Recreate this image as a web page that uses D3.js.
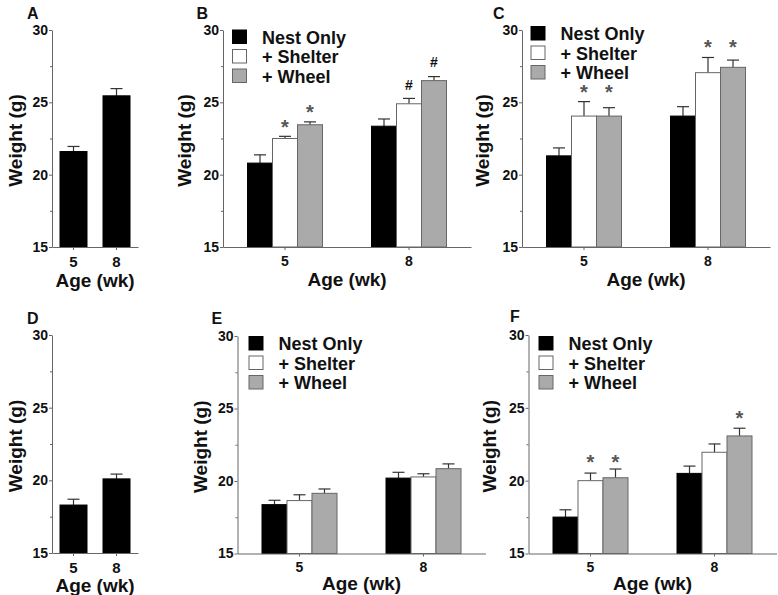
<!DOCTYPE html>
<html><head><meta charset="utf-8">
<script src="https://cdn.jsdelivr.net/npm/d3@7"></script>
<style>
body{margin:0;background:#fff;}
svg{display:block;font-family:"Liberation Sans",Arial,Helvetica,sans-serif;}
</style></head>
<body>
<svg id="chart" width="778" height="595"></svg>
<script>
// ---------- DATA ----------
const ages = ['5', '8'];
const groups = ['Nest Only', '+ Shelter', '+ Wheel'];
const majorTicks = [15, 20, 25, 30];
const minorTicks = [17.5, 22.5, 27.5];

// Panel A (single group)
const meanA = [21.6, 25.45];
const semA = [0.35, 0.5];
// Panel D (single group)
const meanD = [18.3, 20.1];
const semD = [0.4, 0.33];

// Panel B
const meanB_nest = [20.8, 23.35], semB_nest = [0.57, 0.5];
const meanB_shelter = [22.5, 24.9], semB_shelter = [0.15, 0.37];
const meanB_wheel = [23.45, 26.5], semB_wheel = [0.2, 0.28];
// Panel C
const meanC_nest = [21.3, 24.05], semC_nest = [0.55, 0.65];
const meanC_shelter = [24.05, 27.05], semC_shelter = [1.0, 1.05];
const meanC_wheel = [24.05, 27.42], semC_wheel = [0.58, 0.5];
// Panel E
const meanE_nest = [18.37, 20.2], semE_nest = [0.3, 0.4];
const meanE_shelter = [18.65, 20.28], semE_shelter = [0.4, 0.22];
const meanE_wheel = [19.15, 20.85], semE_wheel = [0.3, 0.33];
// Panel F
const meanF_nest = [17.5, 20.5], semF_nest = [0.5, 0.5];
const meanF_shelter = [20.0, 21.95], semF_shelter = [0.52, 0.57];
const meanF_wheel = [20.2, 23.07], semF_wheel = [0.6, 0.53];

// Significance markers: [age, group index, symbol, weight level of marker]
const sigB = [['5', 1, '*', 23.66], ['5', 2, '*', 24.68], ['8', 1, '#', 26.2], ['8', 2, '#', 27.79]];
const sigC = [['5', 1, '*', 26.04], ['5', 2, '*', 26.04], ['8', 1, '*', 29.19], ['8', 2, '*', 29.19]];
const sigF = [['5', 1, '*', 21.65], ['5', 2, '*', 21.65], ['8', 2, '*', 24.63]];

// ---------- STYLE / LAYOUT ----------
const fills = ['#000000', '#ffffff', '#aaaaaa'];
const strokes = ['#000000', '#666666', '#666666'];
const axisColor = '#666';

const panels = [
  {id: 'A', means: [meanA], sems: [semA], sig: [],
   x0: 52, w: 86, yb: 247, yt: 30, barW: 27, tickFs: 15, ageDy: 40, letter: [27, 18.5], ylabX: 22},
  {id: 'B', means: [meanB_nest, meanB_shelter, meanB_wheel], sems: [semB_nest, semB_shelter, semB_wheel], sig: sigB,
   x0: 223, w: 248, yb: 247, yt: 30, barW: 25, tickFs: 14, ageDy: 39, letter: [196.5, 18.5], ylabX: 191, legend: [232, 29.5]},
  {id: 'C', means: [meanC_nest, meanC_shelter, meanC_wheel], sems: [semC_nest, semC_shelter, semC_wheel], sig: sigC,
   x0: 522, w: 248, yb: 247, yt: 30, barW: 25, tickFs: 14, ageDy: 39, letter: [493, 18.5], ylabX: 489, legend: [530.5, 26]},
  {id: 'D', means: [meanD], sems: [semD], sig: [],
   x0: 52, w: 86, yb: 553, yt: 335, barW: 27, tickFs: 15, ageDy: 39, letter: [27, 323.5], ylabX: 22},
  {id: 'E', means: [meanE_nest, meanE_shelter, meanE_wheel], sems: [semE_nest, semE_shelter, semE_wheel], sig: [],
   x0: 237.5, w: 248, yb: 553.5, yt: 336, barW: 25, tickFs: 14, ageDy: 36, letter: [211.5, 323.5], ylabX: 207, legend: [248.5, 336]},
  {id: 'F', means: [meanF_nest, meanF_shelter, meanF_wheel], sems: [semF_nest, semF_shelter, semF_wheel], sig: sigF,
   x0: 528.5, w: 248, yb: 553.5, yt: 335, barW: 25, tickFs: 14, ageDy: 36, letter: [510, 321.5], ylabX: 496, legend: [538.5, 336]}
];

const svg = d3.select('#chart');

panels.forEach(p => {
  const g = svg.append('g');
  const x = d3.scaleBand().domain(ages).range([p.x0, p.x0 + p.w]).padding(0);
  const y = d3.scaleLinear().domain([15, 30]).range([p.yb, p.yt]);
  const nSeries = p.means.length;

  const rows = [];
  p.means.forEach((m, si) => ages.forEach((a, ai) => rows.push({a, si, v: m[ai], e: p.sems[si][ai]})));
  const bx = d => x(d.a) + x.bandwidth() / 2 + (d.si - (nSeries - 1) / 2) * p.barW - p.barW / 2;

  // error bars (behind bars)
  const eb = g.append('g').attr('stroke', '#333').attr('stroke-width', 1.2);
  rows.forEach(d => {
    const cx = bx(d) + p.barW / 2;
    eb.append('line').attr('x1', cx).attr('x2', cx).attr('y1', y(d.v)).attr('y2', y(d.v + d.e));
    eb.append('line').attr('x1', cx - 6).attr('x2', cx + 6).attr('y1', y(d.v + d.e)).attr('y2', y(d.v + d.e));
  });

  g.append('g').selectAll('rect').data(rows).join('rect')
    .attr('x', d => bx(d)).attr('width', p.barW)
    .attr('y', d => y(d.v)).attr('height', d => y(15) - y(d.v))
    .attr('fill', d => fills[d.si]).attr('stroke', d => strokes[d.si]).attr('stroke-width', 1);

  // y axis
  const ya = g.append('g').attr('transform', `translate(${p.x0},0)`)
    .call(d3.axisLeft(y).tickValues(majorTicks).tickSize(3).tickPadding(1).tickSizeOuter(0).tickFormat(d3.format('d')));
  ya.select('.domain').attr('stroke', axisColor);
  ya.selectAll('.tick line').attr('stroke', axisColor);
  ya.selectAll('text').attr('font-size', 14).attr('font-weight', 'bold').attr('fill', '#111')
    .attr('font-family', '"Liberation Sans",Arial,sans-serif');
  g.append('g').attr('transform', `translate(${p.x0},0)`)
    .call(d3.axisLeft(y).tickValues(minorTicks).tickSize(2).tickFormat('').tickSizeOuter(0))
    .call(s => { s.select('.domain').remove(); s.selectAll('line').attr('stroke', axisColor); });

  // x axis
  const xa = g.append('g').attr('transform', `translate(0,${p.yb})`)
    .call(d3.axisBottom(x).tickSize(3).tickPadding(6).tickSizeOuter(0));
  xa.select('.domain').attr('stroke', axisColor);
  xa.selectAll('.tick line').attr('stroke', axisColor);
  xa.selectAll('text').attr('font-size', p.tickFs).attr('font-weight', 'bold').attr('fill', '#111')
    .attr('font-family', '"Liberation Sans",Arial,sans-serif');

  // axis titles
  g.append('text').attr('x', p.x0 + p.w / 2).attr('y', p.yb + p.ageDy)
    .attr('text-anchor', 'middle').attr('font-size', 19).attr('font-weight', 'bold').attr('fill', '#111')
    .text('Age (wk)');
  g.append('text').attr('transform', `translate(${p.ylabX},${(p.yb + p.yt) / 2 + 2}) rotate(-90)`)
    .attr('text-anchor', 'middle').attr('font-size', 19).attr('font-weight', 'bold').attr('fill', '#111')
    .text('Weight (g)');

  // panel letter
  g.append('text').attr('x', p.letter[0]).attr('y', p.letter[1])
    .attr('font-size', 16).attr('font-weight', 'bold').attr('fill', '#111').text(p.id);

  // legend
  if (p.legend) {
    const lg = g.append('g').attr('transform', `translate(${p.legend[0]},${p.legend[1]})`);
    groups.forEach((name, i) => {
      const row = lg.append('g').attr('transform', `translate(0,${i * 19.5})`);
      row.append('rect').attr('x', 0.5).attr('y', 0.5).attr('width', 14).attr('height', 13.5)
        .attr('fill', fills[i]).attr('stroke', strokes[i]).attr('stroke-width', 1);
      row.append('text').attr('x', 30).attr('y', 14).attr('font-size', 18).attr('font-weight', 'bold')
        .attr('fill', '#111').text(name);
    });
  }

  // significance markers
  p.sig.forEach(([a, si, sym, lvl]) => {
    const cx = x(a) + x.bandwidth() / 2 + (si - (nSeries - 1) / 2) * p.barW;
    const isStar = sym === '*';
    g.append('text').attr('x', cx).attr('y', y(lvl) + (isStar ? 12 : 5))
      .attr('text-anchor', 'middle').attr('font-size', isStar ? 20 : 14)
      .attr('font-weight', 'bold').attr('fill', isStar ? '#555' : '#111')
      .text(sym);
  });
});
</script>
</body></html>
